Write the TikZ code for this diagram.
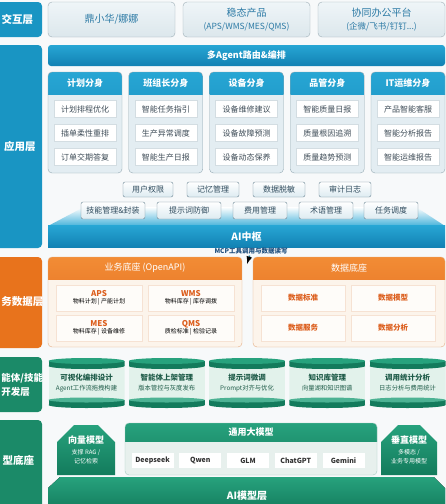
\documentclass[tikz,border=0pt]{standalone}
\usepackage{fontspec}
\setmainfont{Noto Sans CJK SC}
\usepackage{xcolor}
\usepackage{tikz}
\usetikzlibrary{positioning}
\usetikzlibrary{calc}
\usetikzlibrary{shapes.misc}

\definecolor{bgc}{HTML}{F7F9FA}
\definecolor{layblue}{HTML}{1995C3}
\definecolor{blueA}{HTML}{27A6D4}
\definecolor{blueB}{HTML}{1281B3}
\definecolor{cardA}{HTML}{EFF5F8}
\definecolor{cardB}{HTML}{DCE7EC}
\definecolor{carddraw}{HTML}{9DAEB6}
\definecolor{cardtxt}{HTML}{2C7AA5}
\definecolor{colfill}{HTML}{E3EDF2}
\definecolor{coldraw}{HTML}{93A8B2}
\definecolor{itemdraw}{HTML}{D3DDE2}
\definecolor{itemtxt}{HTML}{3F4D58}
\definecolor{capfill}{HTML}{DDEBF1}
\definecolor{capdraw}{HTML}{6A8593}
\definecolor{captxt}{HTML}{2F4B5D}
\definecolor{mcptxt}{HTML}{1F4E7D}
\definecolor{orng}{HTML}{E8731C}
\definecolor{orngA}{HTML}{F28C35}
\definecolor{orngB}{HTML}{DF651B}
\definecolor{cream}{HTML}{FCF4EB}
\definecolor{creamdraw}{HTML}{E4AC80}
\definecolor{ortxt}{HTML}{DC5E1D}
\definecolor{grn}{HTML}{1B8A68}
\definecolor{grnA}{HTML}{27A27D}
\definecolor{grnB}{HTML}{137B5C}
\definecolor{mint}{HTML}{E2F2EB}
\definecolor{gtxt}{HTML}{1F5C49}
\definecolor{gpanel}{HTML}{E7F0ED}

\begin{document}
\begin{tikzpicture}[x=1pt,y=-1pt,node distance=7pt,every node/.style={inner sep=1,outer sep=0,font=\fontsize{8}{10}\selectfont},
  layer/.style={fill=#1,rounded corners=4pt},
  laytxt/.style={text=white,align=center,font=\bfseries\fontsize{10.5}{14}\selectfont},
  card/.style={draw=carddraw,top color=cardA,bottom color=cardB,rounded corners=4pt,minimum width=127pt,minimum height=35pt,align=center,text=cardtxt,font=\fontsize{10}{12.5}\selectfont},
  bar/.style={top color=blueA,bottom color=blueB,rounded corners=3pt,minimum width=397pt,minimum height=21pt,text=white,font=\bfseries\fontsize{9}{11}\selectfont},
  colbox/.style={draw=coldraw,fill=colfill,rounded corners=4pt,minimum width=74pt,minimum height=101pt,
    path picture={\shade[sharp corners,top color=blueA,bottom color=blueB] (path picture bounding box.north west) rectangle ([yshift=-22pt]path picture bounding box.north east);}},
  colhd/.style={minimum width=74pt,minimum height=22pt,text=white,font=\bfseries\fontsize{9}{11}\selectfont},
  item/.style={draw=itemdraw,fill=white,minimum width=62pt,minimum height=17pt,text=itemtxt},
  capbox/.style={draw=capdraw,top color=white,bottom color=capfill,rounded corners=2pt,minimum height=15pt,text=captxt},
  hub/.style={top color=blueA,bottom color=blueB,minimum width=397pt,minimum height=22pt,text=white,font=\bfseries\fontsize{10}{12}\selectfont},
  mcpnote/.style={text=mcptxt,font=\bfseries\fontsize{6.5}{8}\selectfont},
  orpanel/.style={draw=creamdraw,fill=cream,rounded corners=4pt,minimum height=90pt,
    path picture={\shade[sharp corners,top color=orngA,bottom color=orngB] (path picture bounding box.north west) rectangle ([yshift=-22pt]path picture bounding box.north east);}},
  orhd/.style={minimum height=22pt,text=white,font=\fontsize{9}{11}\selectfont},
  oritem/.style={fill=white!70!cream,draw=creamdraw!35,minimum height=26pt,align=center,font=\fontsize{6}{7.5}\selectfont},
  drum/.style={minimum width=76pt,minimum height=50pt,align=center,text=gtxt,font=\bfseries\fontsize{7.5}{10}\selectfont,
    path picture={
      \fill[mint] ([yshift=-6pt]path picture bounding box.north west) rectangle ([yshift=6pt]path picture bounding box.south east);
      \fill[grnB] ([yshift=-3pt]path picture bounding box.north west) rectangle ([yshift=-8pt]path picture bounding box.north east);
      \fill[grnB] ([yshift=-8pt]path picture bounding box.north) ellipse [x radius=38pt,y radius=3pt];
      \fill[grnA] ([yshift=-3pt]path picture bounding box.north) ellipse [x radius=38pt,y radius=3pt];
      \fill[grnB] ([yshift=8pt]path picture bounding box.south west) rectangle ([yshift=3pt]path picture bounding box.south east);
      \fill[grnB] ([yshift=3pt]path picture bounding box.south) ellipse [x radius=38pt,y radius=3pt];
      \fill[grnA!80!mint] ([yshift=8pt]path picture bounding box.south) ellipse [x radius=38pt,y radius=2.5pt];}},
  vecbox/.style={chamfered rectangle,chamfered rectangle corners={north west,north east},chamfered rectangle xsep=9pt,chamfered rectangle ysep=8pt,
    top color=grnA,bottom color=grnB,minimum width=58pt,minimum height=50pt,text=white,align=center,font=\bfseries\fontsize{9}{11}\selectfont},
  gbox/.style={draw=grnB!40,fill=gpanel,rounded corners=4pt,minimum width=252pt,minimum height=52pt,
    path picture={\shade[sharp corners,top color=grnA,bottom color=grnB] (path picture bounding box.north west) rectangle ([yshift=-18pt]path picture bounding box.north east);}},
  mitem/.style={fill=white,minimum width=42pt,minimum height=15pt,text=black!80,font=\bfseries\fontsize{7}{9}\selectfont}]

\useasboundingbox (0,0) rectangle (446,504);
\clip (0,0) rectangle (446,504);
\fill[bgc] (0,0) rectangle (446,504);

% layer labels
\path[layer=layblue] (-30,2) rectangle (42,37);
\path[layer=layblue] (-30,45) rectangle (42,248);
\path[layer=orng] (-30,257) rectangle (42,348);
\path[layer=grn] (-30,357) rectangle (42,412);
\path[layer=grn] (-30,420) rectangle (42,512);
\node[laytxt] (l1) at (17.5,19.5) {交互层};
\node[laytxt] (l2) at (20,146) {应用层};
\node[laytxt,anchor=west] (l3) at (0.5,302) {务数据层};
\node[laytxt,anchor=west,align=left,font=\bfseries\fontsize{9.5}{14}\selectfont] (l4) at (0.5,385) {能体/技能\\开发层};
\node[laytxt,anchor=west] (l5) at (1.5,460) {型底座};

% interaction layer
\node[card] (jh) at (111.5,19.5) {鼎小华/娜娜};
\node[card,right=8pt of jh] (wt) {稳态产品\\{\fontsize{8.5}{11}\selectfont (APS/WMS/MES/QMS)}};
\node[card,right=8pt of wt] (xt) {协同办公平台\\{\fontsize{8.5}{11}\selectfont (企微/飞书/钉钉...)}};

% application layer
\node[bar] (route) at (246.5,55.5) {多Agent路由\&编排};
\node[colbox] (c1) at (85,122.5) {};
\node[colbox,right=6.75pt of c1] (c2) {};
\node[colbox,right=6.75pt of c2] (c3) {};
\node[colbox,right=6.75pt of c3] (c4) {};
\node[colbox,right=6.75pt of c4] (c5) {};
\node[colhd,below=0pt of c1.north] (h1) {计划分身};
\node[colhd,below=0pt of c2.north] (h2) {班组长分身};
\node[colhd,below=0pt of c3.north] (h3) {设备分身};
\node[colhd,below=0pt of c4.north] (h4) {品管分身};
\node[colhd,below=0pt of c5.north] (h5) {IT运维分身};
\node[item,below=6.5pt of h1] (a1) {计划排程优化};
\node[item,below=of a1] (a2) {插单柔性重排};
\node[item,below=of a2] (a3) {订单交期答复};
\node[item,below=6.5pt of h2] (b1) {智能任务指引};
\node[item,below=of b1] (b2) {生产异常调度};
\node[item,below=of b2] (b3) {智能生产日报};
\node[item,below=6.5pt of h3] (e1) {设备维修建议};
\node[item,below=of e1] (e2) {设备故障预测};
\node[item,below=of e2] (e3) {设备动态保养};
\node[item,below=6.5pt of h4] (q1) {智能质量日报};
\node[item,below=of q1] (q2) {质量根因追溯};
\node[item,below=of q2] (q3) {质量趋势预测};
\node[item,below=6.5pt of h5] (t1) {产品智能客服};
\node[item,below=of t1] (t2) {智能分析报告};
\node[item,below=of t2] (t3) {智能运维报告};

% AI hub
\shade[top color=white,bottom color=blueA!85] (48,226) -- (84,207) -- (416,207) -- (445,226) -- cycle;
\node[capbox,minimum width=50pt] (u1) at (148,189.5) {用户权限};
\node[capbox,minimum width=52pt,right=14pt of u1] (u2) {记忆管理};
\node[capbox,minimum width=52pt,right=14pt of u2] (u3) {数据脱敏};
\node[capbox,minimum width=52pt,right=14pt of u3] (u4) {审计日志};
\node[capbox,minimum width=64pt,minimum height=17pt] (s1) at (113,210.5) {技能管理\&封装};
\node[capbox,minimum width=64pt,minimum height=17pt,right=12pt of s1] (s2) {提示词防御};
\node[capbox,minimum width=54pt,minimum height=17pt,right=12pt of s2] (s3) {费用管理};
\node[capbox,minimum width=54pt,minimum height=17pt,right=12pt of s3] (s4) {术语管理};
\node[capbox,minimum width=54pt,minimum height=17pt,right=11pt of s4] (s5) {任务调度};
\node[hub] (hub) at (246.5,236.5) {AI中枢};
\node[mcpnote] (mcp) at (251,251.5) {MCP工具调用与数据读写};
\coordinate (tip) at (247,264);
\path[-latex,line width=1.6pt,draw=blueA!80!black] (mcp) edge (tip);

% business data layer
\node[orpanel,minimum width=194pt] (biz) at (145,302) {};
\node[orpanel,minimum width=192pt,right=11pt of biz] (dat) {};
\node[orhd,below=0pt of biz.north] (bizh) {业务底座 (OpenAPI)};
\node[orhd,below=0pt of dat.north] (dath) {数据底座};
\node[oritem,minimum width=86pt] (aps) at (99,298) {{\color{ortxt}\bfseries\fontsize{8}{10}\selectfont APS}\\物料计划 | 产能计划};
\node[oritem,minimum width=86pt,right=6pt of aps] (wms) {{\color{ortxt}\bfseries\fontsize{8}{10}\selectfont WMS}\\物料库存 | 库存调拨};
\node[oritem,minimum width=86pt,below=4pt of aps] (mes) {{\color{ortxt}\bfseries\fontsize{8}{10}\selectfont MES}\\物料库存 | 设备维修};
\node[oritem,minimum width=86pt,below=4pt of wms] (qms) {{\color{ortxt}\bfseries\fontsize{8}{10}\selectfont QMS}\\质检标准 | 检验记录};
\node[oritem,minimum width=84pt,text=ortxt,font=\bfseries\fontsize{7.5}{9}\selectfont] (d1) at (303,298) {数据标准};
\node[oritem,minimum width=84pt,text=ortxt,font=\bfseries\fontsize{7.5}{9}\selectfont,right=6pt of d1] (d2) {数据模型};
\node[oritem,minimum width=84pt,text=ortxt,font=\bfseries\fontsize{7.5}{9}\selectfont,below=4pt of d1] (d3) {数据服务};
\node[oritem,minimum width=84pt,text=ortxt,font=\bfseries\fontsize{7.5}{9}\selectfont,below=4pt of d2] (d4) {数据分析};

% agent / skill dev layer
\node[drum] (k1) at (86.5,383) {可视化编排设计\\{\mdseries\fontsize{6.3}{8}\selectfont Agent工作流拖拽构建}};
\node[drum,right=4.25pt of k1] (k2) {智能体上架管理\\{\mdseries\fontsize{6.3}{8}\selectfont 版本管控与灰度发布}};
\node[drum,right=4.25pt of k2] (k3) {提示词微调\\{\mdseries\fontsize{6.3}{8}\selectfont Prompt对齐与优化}};
\node[drum,right=4.25pt of k3] (k4) {知识库管理\\{\mdseries\fontsize{6.3}{8}\selectfont 向量湖和知识图谱}};
\node[drum,right=4.25pt of k4] (k5) {调用统计分析\\{\mdseries\fontsize{6.3}{8}\selectfont 日志分析与费用统计}};

% model base layer
\fill[top color=grnA,bottom color=grnB] (48,512) -- (48,488) -- (60,477) -- (434,477) -- (445,488) -- (445,512) -- cycle;
\node[text=white,font=\bfseries\fontsize{10}{12}\selectfont] (base) at (247,496) {AI模型层};
\node[vecbox] (vec) at (86,450) {向量模型\\{\mdseries\fontsize{6}{8}\selectfont 支撑 RAG /}\\[-2pt]{\mdseries\fontsize{6}{8}\selectfont 记忆检索}};
\node[gbox] (llm) at (251,449) {};
\node[minimum height=18pt,text=white,font=\bfseries\fontsize{9}{11}\selectfont,below=0pt of llm.north] (llmh) {通用大模型};
\node[mitem] (m1) at (152.5,460.5) {Deepseek};
\node[mitem,right=5.75pt of m1] (m2) {Qwen};
\node[mitem,right=5.75pt of m2] (m3) {GLM};
\node[mitem,right=5.75pt of m3] (m4) {ChatGPT};
\node[mitem,right=5.75pt of m4] (m5) {Gemini};
\node[vecbox,minimum width=56pt] (vert) at (409,450) {垂直模型\\{\mdseries\fontsize{6}{8}\selectfont 多模态 /}\\[-2pt]{\mdseries\fontsize{6}{8}\selectfont 业务专用模型}};
\end{tikzpicture}
\end{document}
